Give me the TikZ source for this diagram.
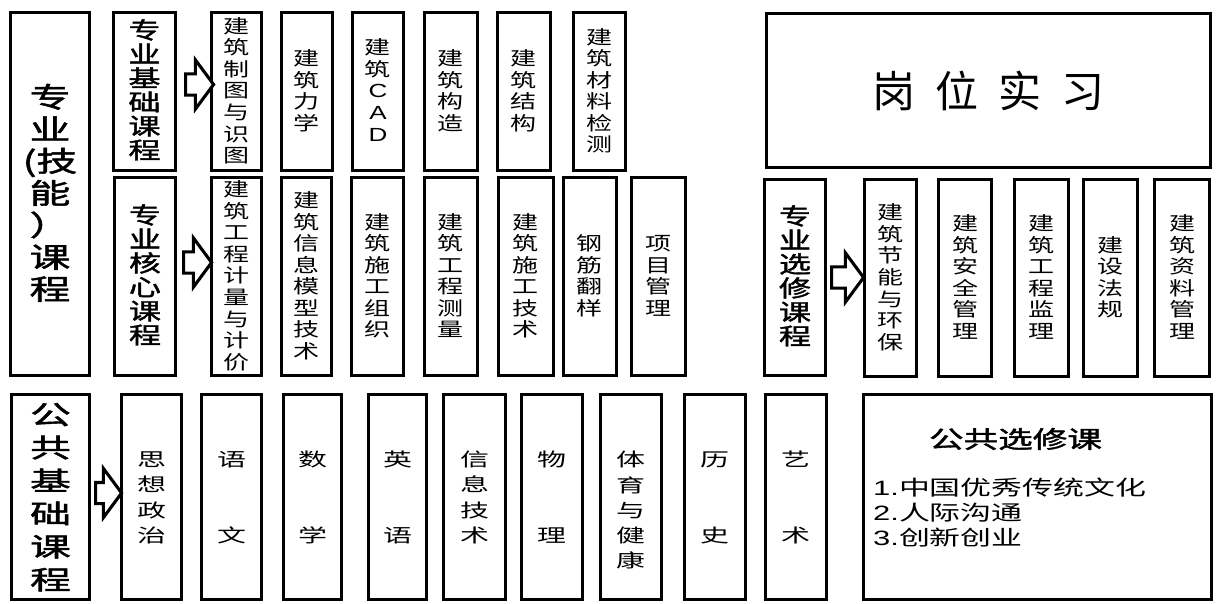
\documentclass[tikz,border=0pt]{standalone}
\usepackage{fontspec}
\setmainfont{Noto Sans CJK SC}
\newfontfamily\hdfont[FakeBold=1.5]{Noto Sans CJK SC}
\newfontfamily\arial{Liberation Sans}
\usepackage{graphicx}
\usetikzlibrary{calc, shapes.arrows}

% pixel unit and vertical squash of the stacked course names
\def\px{0.025cm}
\def\vsq{0.75}
\newlength{\vpitch}
\newcommand{\vstack}[1]{%
  \scalebox{1}[\vsq]{\vbox{\vpitch=\baselineskip\offinterlineskip
    \foreach \ch in {#1}{\hbox to 0pt{\hss
      \vrule height .8\vpitch depth .2\vpitch width 0pt\smash{\ch}\hss}}}}}

\begin{document}
\begin{tikzpicture}[x=0.025cm, y=-0.025cm]

\useasboundingbox (0,0) rectangle (1219,604);
\fill[white] (0,0) rectangle (1219,604);

% =========================
% Styles (ALL IN ONE BLOCK)
% =========================
\tikzset{
    box/.style={draw, line width=2.2pt, inner sep=0pt},
    course/.style={box, font={\def\vsq{0.73}\fontsize{18.5}{21}\selectfont}},
    basic/.style={box, font={\def\vsq{0.64}\fontsize{20.6}{27.8}\selectfont}},
    head/.style={box, font={\def\vsq{0.72}\hdfont\fontsize{22.8}{23.7}\selectfont}},
    bighead/.style={box, font={\def\vsq{0.69}\hdfont\fontsize{29}{33}\selectfont}},
    pubhead/.style={box, font={\def\vsq{0.64}\hdfont\fontsize{29}{36.7}\selectfont}},
    blockarrow/.style={single arrow, draw, line width=2.2pt, fill=white,
        inner xsep=0pt, inner ysep=0.225cm, single arrow head extend=0.35cm,
        single arrow tip angle=107}
}

% =========================
% Professional (skill) courses
% =========================
\node[bighead, minimum width=79*\px, minimum height=363*\px] (hpro) at (50,194)
    {\vstack{专,业,{(技},能,{）},课,程}};

\node[head, minimum width=62*\px, minimum height=158*\px] (hbase) at (144.5,91.5)
    {\vstack{专,业,基,础,课,程}};
\node[head, minimum width=61*\px, minimum height=198*\px] (hcore) at (145,276.5)
    {\vstack{专,业,核,心,课,程}};

% basic courses
\foreach \n/\xa/\xb/\t in {
    b1/210/263/{建,筑,制,图,与,识,图},
    b2/280/334/{建,筑,力,学},
    b3/351/405/{建,筑,{\arial C},{\arial A},{\arial D}},
    b4/423/479/{建,筑,构,造},
    b5/496/552/{建,筑,结,构},
    b6/572/627/{建,筑,材,料,检,测}} {
    \node[course, minimum width={(\xb-\xa-3)*\px}, minimum height=158*\px]
        (\n) at ({(\xa+\xb)/2},91.5) {\expandafter\vstack\expandafter{\t}};
}

% core courses
\foreach \n/\xa/\xb/\t in {
    c1/210/263/{建,筑,工,程,计,量,与,计,价},
    c2/280/333/{建,筑,信,息,模,型,技,术},
    c3/350/405/{建,筑,施,工,组,织},
    c4/423/479/{建,筑,工,程,测,量},
    c5/497/555/{建,筑,施,工,技,术},
    c6/562/618/{钢,筋,翻,样},
    c7/630/687/{项,目,管,理}} {
    \node[course, minimum width={(\xb-\xa-3)*\px}, minimum height=198*\px]
        (\n) at ({(\xa+\xb)/2},276.5) {\expandafter\vstack\expandafter{\t}};
}

\node[blockarrow, anchor=tail, minimum height=28*\px] (abase) at ($(hbase.east)+(7,-7)$) {};
\node[blockarrow, anchor=tail, minimum height=28*\px] (acore) at ($(hcore.east)+(5,-14)$) {};

% =========================
% Internship
% =========================
\node[box, minimum width=444*\px, minimum height=154*\px,
    font=\fontsize{30.6}{36}\selectfont] (intern) at (988.5,90.5)
    {岗\hspace{14pt}位\hspace{14pt}实\hspace{14pt}习};

% =========================
% Professional electives
% =========================
\node[head, minimum width=61*\px, minimum height=196*\px] (hopt) at (795,277.5)
    {\vstack{专,业,选,修,课,程}};

\foreach \n/\xa/\xb/\t in {
    e1/863/918/{建,筑,节,能,与,环,保},
    e2/937/993/{建,筑,安,全,管,理},
    e3/1013/1070/{建,筑,工,程,监,理},
    e4/1082/1139/{建,设,法,规},
    e5/1153/1211/{建,筑,资,料,管,理}} {
    \node[course, minimum width={(\xb-\xa-3)*\px}, minimum height=197*\px]
        (\n) at ({(\xa+\xb)/2},278) {\expandafter\vstack\expandafter{\t}};
}

\node[blockarrow, anchor=tail, minimum height=32*\px] (aopt) at ($(hopt.east)+(3,0)$) {};

% =========================
% Public basic courses
% =========================
\node[pubhead, minimum width=78*\px, minimum height=205*\px] (hpub) at (50.5,497)
    {\vstack{公,共,基,础,课,程}};

\foreach \n/\xa/\xb/\t in {
    p1/120/183/{思,想,政,治},
    p2/200/263/{语,{},{},文},
    p3/282/343/{数,{},{},学},
    p4/367/428/{英,{},{},语},
    p5/442/507/{信,息,技,术},
    p6/520/584/{物,{},{},理},
    p7/599/663/{{},体,育,与,健,康},
    p8/683/747/{历,{},{},史},
    p9/764/828/{艺,{},{},术}} {
    \node[basic, minimum width={(\xb-\xa-3)*\px}, minimum height=205*\px]
        (\n) at ({(\xa+\xb)/2},497) {\expandafter\vstack\expandafter{\t}};
}

\node[blockarrow, anchor=tail, minimum height=26*\px] (apub) at ($(hpub.east)+(3,-4)$) {};

% public electives
\node[box, minimum width=348*\px, minimum height=205*\px] (pubopt) at (1037.5,497) {};
\node[font=\hdfont\fontsize{24.6}{30}\selectfont] (puboptt) at ($(pubopt.north)+(-22,46)$)
    {\scalebox{1}[0.69]{公共选修课}};
\node[anchor=west, inner sep=0pt, font=\fontsize{22}{26.5}\selectfont] (puboptl)
    at ($(pubopt.west)+(11,18)$)
    {\scalebox{1}[0.67]{\begin{tabular}{@{}l@{}}
        {\arial 1.}中国优秀传统文化\\
        {\arial 2.}人际沟通\\
        {\arial 3.}创新创业
    \end{tabular}}};

\end{tikzpicture}
\end{document}
